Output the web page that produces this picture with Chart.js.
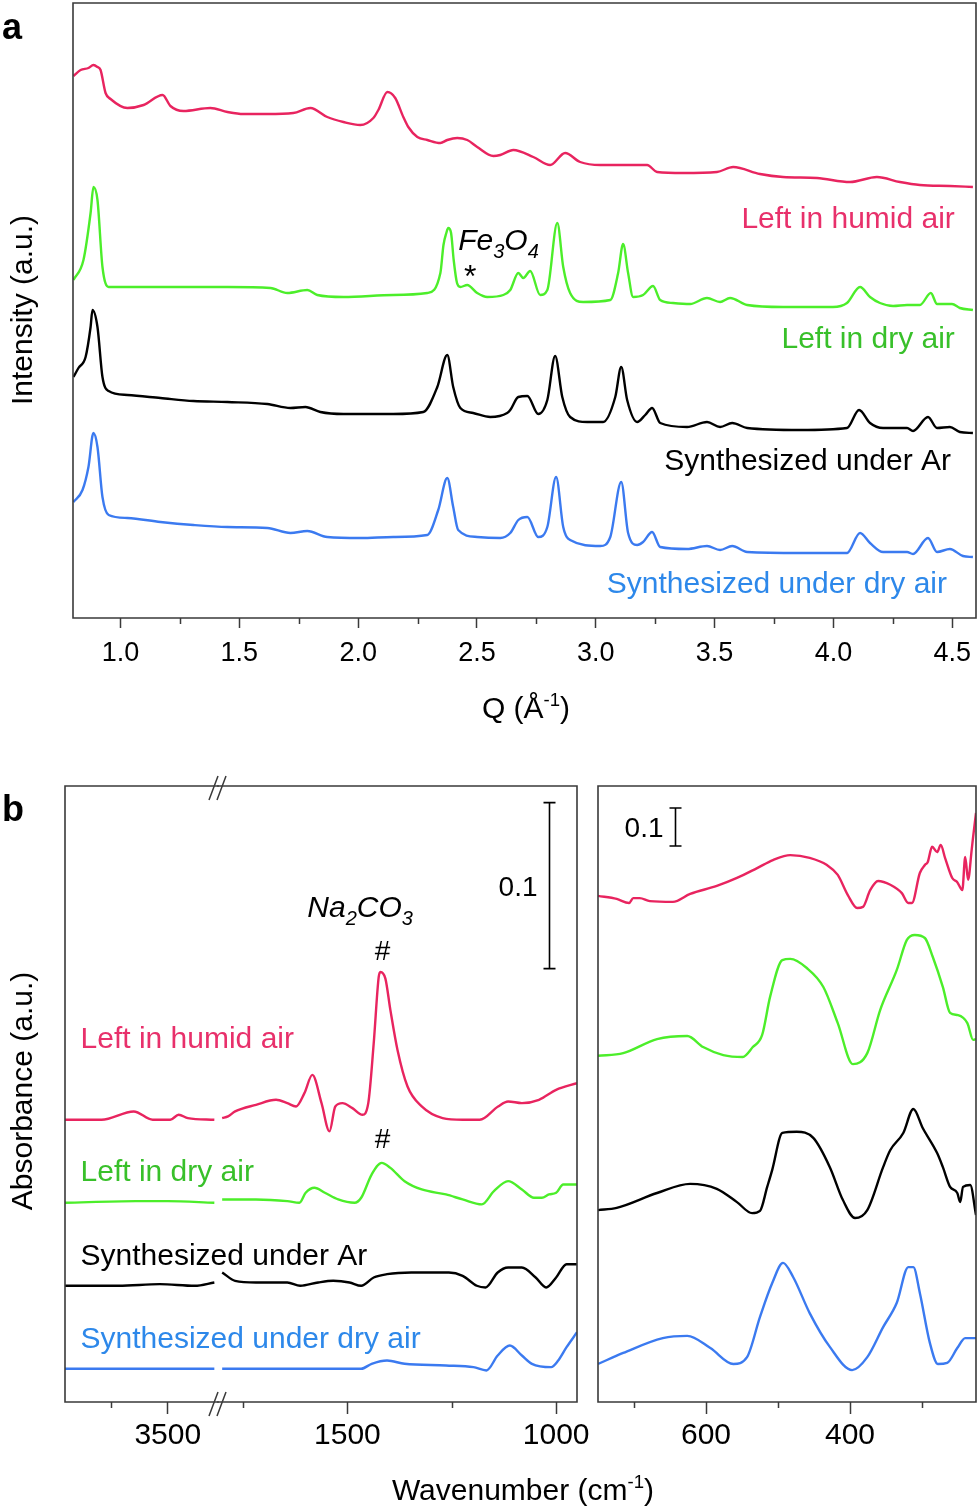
<!DOCTYPE html>
<html>
<head>
<meta charset="utf-8">
<script src="https://cdn.jsdelivr.net/npm/chart.js@4.4.1/dist/chart.umd.min.js"></script>
<style>
	html, body { margin: 0; padding: 0; background: #fff; }
	body { width: 980px; height: 1510px; position: relative; overflow: hidden; font-family: "Liberation Sans", Arial, sans-serif; }
	canvas { position: absolute; left: 0; }
	.t { position: absolute; color: #000; white-space: nowrap; line-height: 1; }
	.t sup { font-size: 62%; position: relative; top: -0.1em; vertical-align: top; }
	.rot { transform: translate(-50%, -50%) rotate(-90deg); }
	.mid { transform: translateX(-50%); }
</style>
</head>
<body>
<canvas id="chart-xrd" style="top:0" width="980" height="740"></canvas>
<canvas id="chart-ir-high" style="top:740px" width="980" height="770"></canvas>
<canvas id="chart-ir-mid" style="top:740px" width="980" height="770"></canvas>
<canvas id="chart-ir-low" style="top:740px" width="980" height="770"></canvas>

<div class="t" style="left:2px;top:9px;font-size:36px;font-weight:bold">a</div>
<div class="t" style="left:2px;top:791px;font-size:36px;font-weight:bold">b</div>
<div class="t rot" style="left:22px;top:310px;font-size:30px">Intensity (a.u.)</div>
<div class="t rot" style="left:22px;top:1091px;font-size:30px">Absorbance (a.u.)</div>
<div class="t mid" style="left:526px;top:693px;font-size:30px">Q (Å<sup>-1</sup>)</div>
<div class="t mid" style="left:523px;top:1475px;font-size:30px">Wavenumber (cm<sup>-1</sup>)</div>

<script>
// ---- panel a : scattering, Q (1/Å) vs intensity (a.u., offsets included)
const qTicks = [1.0, 1.5, 2.0, 2.5, 3.0, 3.5, 4.0, 4.5];
const qMinor = [1.25, 1.75, 2.25, 2.75, 3.25, 3.75, 4.25];

const xrdHumid = [[0.802,542],[0.832,548],[0.865,550],[0.886,553],[0.903,551],[0.916,548],[0.937,525],[0.958,519],[1.029,510],[1.097,513],[1.177,523],[1.210,512],[1.265,507],[1.378,510],[1.450,506],[1.517,504],[1.618,504],[1.727,505],[1.799,510],[1.870,501],[1.938,496],[2.009,493],[2.064,500],[2.085,508],[2.123,526],[2.156,520],[2.190,501],[2.211,491],[2.249,481],[2.291,478],[2.346,475],[2.375,478],[2.417,480],[2.459,478],[2.501,471],[2.569,462],[2.598,463],[2.653,468],[2.737,461],[2.808,453],[2.871,465],[2.934,456],[3.019,453],[3.090,453],[3.157,453],[3.216,453],[3.258,446],[3.368,445],[3.510,446],[3.578,451],[3.691,444],[3.788,441],[3.931,440],[4.070,436],[4.183,441],[4.280,436],[4.364,433],[4.490,432],[4.587,431]];
const xrdDry = [[0.802,338],[0.844,358],[0.874,405],[0.886,431],[0.903,418],[0.924,351],[0.950,331],[1.168,331],[1.450,331],[1.631,330],[1.702,325],[1.786,328],[1.828,323],[1.938,321],[2.148,323],[2.291,325],[2.346,345],[2.359,373],[2.371,385],[2.379,390],[2.391,385],[2.402,358],[2.416,335],[2.430,331],[2.459,333],[2.501,325],[2.543,321],[2.611,323],[2.640,328],[2.674,345],[2.695,340],[2.724,347],[2.766,323],[2.796,328],[2.838,395],[2.863,351],[2.892,325],[2.947,316],[3.061,318],[3.094,345],[3.115,374],[3.136,345],[3.157,321],[3.199,323],[3.241,332],[3.271,318],[3.325,315],[3.397,314],[3.468,320],[3.523,316],[3.565,320],[3.637,313],[3.788,311],[3.998,311],[4.057,315],[4.112,331],[4.154,321],[4.196,315],[4.251,312],[4.310,313],[4.364,313],[4.410,325],[4.436,314],[4.499,314],[4.532,310],[4.587,308]];
const xrdAr = [[0.802,241],[0.823,250],[0.853,261],[0.874,291],[0.882,308],[0.903,291],[0.924,241],[0.950,227],[1.029,223],[1.168,220],[1.307,217],[1.450,216],[1.618,214],[1.715,210],[1.778,211],[1.841,206],[1.938,204],[2.148,204],[2.274,206],[2.333,231],[2.375,263],[2.400,231],[2.430,210],[2.484,205],[2.556,201],[2.627,205],[2.640,208],[2.674,221],[2.712,222],[2.758,204],[2.796,218],[2.829,262],[2.859,221],[2.892,201],[2.964,196],[3.031,196],[3.082,221],[3.107,251],[3.132,218],[3.174,196],[3.208,203],[3.237,210],[3.271,195],[3.384,191],[3.468,196],[3.523,191],[3.574,195],[3.637,190],[3.860,188],[4.057,190],[4.108,208],[4.154,195],[4.209,190],[4.310,190],[4.335,187],[4.398,201],[4.436,190],[4.490,191],[4.532,186],[4.587,185]];
const xrdAir = [[0.802,116],[0.840,128],[0.865,151],[0.886,185],[0.903,171],[0.924,121],[0.950,103],[1.029,100],[1.168,96],[1.307,93],[1.450,91],[1.618,90],[1.715,85],[1.786,87],[1.870,81],[2.009,80],[2.148,81],[2.291,83],[2.337,108],[2.375,140],[2.400,111],[2.421,88],[2.501,81],[2.598,80],[2.640,85],[2.674,98],[2.712,101],[2.758,81],[2.796,91],[2.833,141],[2.863,91],[2.892,78],[3.019,72],[3.061,81],[3.107,136],[3.136,85],[3.174,73],[3.199,76],[3.237,86],[3.271,71],[3.384,69],[3.468,72],[3.523,68],[3.574,72],[3.637,66],[3.860,65],[4.057,65],[4.112,85],[4.154,75],[4.209,66],[4.310,66],[4.335,64],[4.398,80],[4.436,66],[4.490,69],[4.545,62],[4.587,61]];

// ---- panel b : IR, wavenumber (1/cm) vs absorbance (offsets included)
const wnTicksHigh = [3500];
const wnMinorHigh = [3750];
const wnTicksMid = [1500, 1000];
const wnMinorMid = [1750, 1250];
const wnTicksLow = [600, 400];
const wnMinorLow = [700, 500, 300];
const scaleBarSize = 0.1;

const irHumidHigh = [[3950,.170],[3790,.170],[3649,.175],[3566,.170],[3489,.170],[3452,.173],[3412,.171],[3296,.170]];
const irHumidMid = [[1800,.171],[1786,.172],[1769,.175],[1719,.179],[1671,.182],[1644,.180],[1623,.178],[1603,.186],[1584,.197],[1562,.180],[1543,.163],[1529,.178],[1512,.180],[1488,.177],[1464,.173],[1450,.180],[1437,.216],[1425,.256],[1421,.259],[1409,.255],[1397,.236],[1380,.212],[1356,.190],[1322,.178],[1272,.171],[1224,.170],[1183,.170],[1139,.178],[1115,.181],[1082,.180],[1041,.182],[1000,.188],[950,.192]];
const irHumidLow = [[750,1.332],[724,1.324],[707,1.313],[701,1.326],[692,1.326],[678,1.318],[646,1.316],[622,1.337],[585,1.358],[557,1.379],[529,1.405],[507,1.426],[483,1.439],[456,1.432],[432,1.413],[417,1.387],[403,1.334],[390,1.300],[382,1.303],[372,1.347],[361,1.371],[344,1.361],[328,1.339],[319,1.313],[314,1.313],[303,1.392],[296,1.413],[292,1.421],[286,1.461],[279,1.447],[274,1.466],[268,1.432],[258,1.379],[251,1.368],[244,1.347],[240,1.434],[236,1.374],[231,1.453],[229,1.487],[225,1.550]];

const irDryHigh = [[3950,.120],[3640,.121],[3500,.121],[3296,.120]];
const irDryMid = [[1800,.122],[1719,.122],[1644,.121],[1615,.120],[1600,.126],[1579,.129],[1554,.126],[1522,.122],[1483,.120],[1467,.123],[1442,.137],[1418,.144],[1397,.141],[1363,.133],[1322,.128],[1264,.125],[1224,.122],[1178,.119],[1149,.127],[1115,.133],[1082,.128],[1053,.123],[1034,.123],[1017,.125],[1000,.126],[983,.131],[950,.131]];
const irDryLow = [[750,.911],[715,.918],[668,.955],[626,.963],[604,.934],[576,.913],[549,.908],[535,.934],[522,.966],[511,1.066],[494,1.163],[483,1.166],[460,1.142],[437,1.092],[417,.997],[396,.889],[376,.918],[358,1.032],[335,1.137],[321,1.216],[310,1.229],[296,1.221],[285,1.171],[271,1.092],[261,1.024],[250,1.018],[237,.997],[229,.953],[225,.955]];

const irArHigh = [[3950,.070],[3715,.070],[3535,.071],[3382,.070],[3296,.072]];
const irArMid = [[1800,.078],[1769,.073],[1719,.072],[1644,.072],[1613,.070],[1570,.072],[1534,.073],[1495,.072],[1467,.070],[1437,.075],[1405,.077],[1347,.078],[1257,.078],[1224,.076],[1190,.070],[1169,.069],[1140,.078],[1115,.081],[1082,.081],[1049,.075],[1024,.069],[1000,.075],[975,.083],[950,.083]];
const irArLow = [[750,.505],[724,.511],[668,.550],[622,.574],[585,.561],[557,.526],[536,.497],[525,.503],[515,.566],[508,.611],[494,.708],[474,.711],[451,.695],[428,.618],[410,.532],[393,.484],[376,.505],[354,.618],[344,.663],[326,.708],[312,.771],[299,.721],[279,.655],[271,.618],[261,.566],[251,.550],[247,.526],[243,.566],[233,.571],[225,.492]];

const irAirHigh = [[3950,.020],[3640,.020],[3296,.020]];
const irAirMid = [[1800,.020],[1637,.020],[1488,.020],[1467,.020],[1442,.023],[1405,.025],[1363,.023],[1264,.022],[1198,.021],[1167,.019],[1140,.028],[1111,.034],[1082,.028],[1058,.023],[1012,.021],[995,.025],[975,.033],[950,.042]];
const irAirLow = [[750,.100],[715,.129],[660,.168],[626,.174],[594,.142],[562,.100],[543,.118],[525,.224],[508,.313],[493,.366],[479,.329],[456,.234],[428,.145],[397,.084],[376,.118],[354,.197],[335,.261],[319,.355],[312,.355],[303,.287],[289,.155],[278,.100],[265,.103],[251,.142],[240,.168],[225,.168]];

// ---- styles
const FONT = "'Liberation Sans', Arial, Helvetica, sans-serif";
const AXIS = "#3a3a3a";
const RED = "#e8245f", RED_TEXT = "#e8306b";
const GREEN = "#4cee2a", GREEN_TEXT = "#38c02a";
const BLUE = "#3b7af0", BLUE_TEXT = "#2d88ea";
const BLACK = "#000000";

Chart.defaults.font.family = FONT;
Chart.defaults.color = "#000";

const toXY = (pts) => pts.map(([x, y]) => ({ x, y }));
const line = (pts, color) => ({
	data: toXY(pts),
	borderColor: color,
	borderWidth: 2.4,
	pointRadius: 0,
	fill: false,
	cubicInterpolationMode: "monotone",
});

// text with optional sub/superscripts, anchored at a pixel
function drawNote(ctx, n, px, py) {
	const size = n.size || 30;
	const style = n.italic ? "italic " : "";
	const parts = n.parts || [{ t: n.text }];
	const fontFor = (p) => `${style}${p.sub || p.sup ? Math.round(size * 0.66) : size}px ${FONT}`;
	let w = 0;
	parts.forEach((p) => {
		ctx.font = fontFor(p);
		w += ctx.measureText(p.t).width;
	});
	let x = n.align === "right" ? px - w : n.align === "center" ? px - w / 2 : px;
	ctx.fillStyle = n.color || "#000";
	ctx.textAlign = "left";
	ctx.textBaseline = "alphabetic";
	parts.forEach((p) => {
		ctx.font = fontFor(p);
		const dy = p.sub ? size * 0.26 : p.sup ? -size * 0.42 : 0;
		ctx.fillText(p.t, x, py + dy);
		x += ctx.measureText(p.t).width;
	});
}

// frame, minor ticks, axis break, scale bar and in-plot labels
const decor = {
	id: "decor",
	afterDraw(chart, args, o) {
		const { ctx, chartArea: a } = chart;
		const xs = chart.scales.x;
		const ys = chart.scales.y;
		ctx.save();
		ctx.strokeStyle = AXIS;
		ctx.lineWidth = 1.6;
		ctx.lineCap = "square";
		ctx.beginPath();
		if (o.top) { ctx.moveTo(a.left, a.top); ctx.lineTo(a.right, a.top); }
		if (o.bottom) { ctx.moveTo(a.left, a.bottom); ctx.lineTo(a.right, a.bottom); }
		if (o.left) { ctx.moveTo(a.left, a.top); ctx.lineTo(a.left, a.bottom); }
		if (o.right) { ctx.moveTo(a.right, a.top); ctx.lineTo(a.right, a.bottom); }
		ctx.stroke();
		ctx.lineCap = "butt";
		ctx.lineWidth = 1.5;
		ctx.beginPath();
		(o.minor || []).forEach((v) => {
			const px = Math.round(xs.getPixelForValue(v)) + 0.5;
			ctx.moveTo(px, a.bottom);
			ctx.lineTo(px, a.bottom + o.minorLen);
		});
		if (o.breakMarks) {
			[a.top, a.bottom].forEach((y) => {
				[-9, -1].forEach((dx) => {
					ctx.moveTo(a.left + dx, y + 14);
					ctx.lineTo(a.left + dx + 9, y - 10);
				});
			});
		}
		ctx.stroke();
		if (o.bar) {
			const bx = Math.round(xs.getPixelForValue(o.bar.x)) + 0.5;
			const y0 = ys.getPixelForValue(o.bar.from);
			const y1 = ys.getPixelForValue(o.bar.from + scaleBarSize);
			ctx.strokeStyle = "#000";
			ctx.lineWidth = 1.6;
			ctx.beginPath();
			ctx.moveTo(bx, y0); ctx.lineTo(bx, y1);
			ctx.moveTo(bx - 6, y0); ctx.lineTo(bx + 6, y0);
			ctx.moveTo(bx - 6, y1); ctx.lineTo(bx + 6, y1);
			ctx.stroke();
			drawNote(ctx, { text: String(scaleBarSize), size: 28, align: "right" }, bx - 12, (y0 + y1) / 2 + 10);
		}
		(o.notes || []).forEach((n) => drawNote(ctx, n, xs.getPixelForValue(n.x), ys.getPixelForValue(n.y)));
		ctx.restore();
	},
};
Chart.register(decor);

const xAxis = ({ min, max, reverse, ticks, height, tickLength, size, padding, label }) => ({
	type: "linear",
	min,
	max,
	reverse,
	border: { display: false },
	grid: { display: true, drawOnChartArea: false, drawTicks: true, tickLength, tickColor: AXIS, tickWidth: 1.5 },
	ticks: { font: { size }, color: "#000", padding, maxRotation: 0, autoSkip: false, callback: label },
	afterBuildTicks: (s) => { s.ticks = ticks.map((v) => ({ value: v })); },
	afterFit: (s) => { s.height = height; s.paddingLeft = 0; s.paddingRight = 0; },
});

const baseOptions = (padding, x, yMax, decorOpts) => ({
	responsive: false,
	animation: false,
	devicePixelRatio: 1,
	layout: { padding },
	plugins: { legend: { display: false }, tooltip: { enabled: false }, title: { display: false }, decor: decorOpts },
	scales: {
		x,
		y: { display: false, min: 0, max: yMax },
	},
});

// Panel a
new Chart(document.getElementById("chart-xrd"), {
	type: "line",
	data: { datasets: [line(xrdHumid, RED), line(xrdDry, GREEN), line(xrdAr, BLACK), line(xrdAir, BLUE)] },
	options: baseOptions(
		{ left: 73, right: 4, top: 3, bottom: 0 },
		xAxis({ min: 0.8, max: 4.6, reverse: false, ticks: qTicks, height: 122, tickLength: 10, size: 27, padding: 9, label: (v) => Number(v).toFixed(1) }),
		615,
		{
			top: true, bottom: true, left: true, right: true,
			minor: qMinor, minorLen: 6,
			notes: [
				{ text: "Left in humid air", x: 4.511, y: 390, align: "right", color: RED_TEXT },
				{ text: "Left in dry air", x: 4.511, y: 270, align: "right", color: GREEN_TEXT },
				{ text: "Synthesized under Ar", x: 4.495, y: 148, align: "right", color: "#000" },
				{ text: "Synthesized under dry air", x: 4.478, y: 25, align: "right", color: BLUE_TEXT },
				{ parts: [{ t: "Fe" }, { t: "3", sub: true }, { t: "O" }, { t: "4", sub: true }], x: 2.421, y: 368, italic: true, size: 30 },
				{ text: "*", x: 2.472, y: 331, align: "center", size: 32 },
			],
		}
	),
});

// Panel b, left box, high-wavenumber segment
new Chart(document.getElementById("chart-ir-high"), {
	type: "line",
	data: { datasets: [line(irHumidHigh, RED), line(irDryHigh, GREEN), line(irArHigh, BLACK), line(irAirHigh, BLUE)] },
	options: baseOptions(
		{ left: 65, right: 762, top: 46, bottom: 0 },
		xAxis({ min: 3280, max: 3950, reverse: true, ticks: wnTicksHigh, height: 108, tickLength: 12, size: 30, padding: 4, label: (v) => String(v) }),
		0.371,
		{
			top: true, bottom: true, left: true,
			minor: wnMinorHigh, minorLen: 6,
			notes: [
				{ text: "Left in humid air", x: 3882, y: 0.213, color: RED_TEXT },
				{ text: "Left in dry air", x: 3882, y: 0.133, color: GREEN_TEXT },
				{ text: "Synthesized under Ar", x: 3882, y: 0.0825, color: "#000" },
				{ text: "Synthesized under dry air", x: 3882, y: 0.0325, color: BLUE_TEXT },
			],
		}
	),
});

// Panel b, left box, fingerprint segment
new Chart(document.getElementById("chart-ir-mid"), {
	type: "line",
	data: { datasets: [line(irHumidMid, RED), line(irDryMid, GREEN), line(irArMid, BLACK), line(irAirMid, BLUE)] },
	options: baseOptions(
		{ left: 218, right: 403, top: 46, bottom: 0 },
		xAxis({ min: 950, max: 1810, reverse: true, ticks: wnTicksMid, height: 108, tickLength: 12, size: 30, padding: 4, label: (v) => String(v) }),
		0.371,
		{
			top: true, bottom: true, right: true, breakMarks: true,
			minor: wnMinorMid, minorLen: 6,
			bar: { x: 1017, from: 0.261 },
			notes: [
				{ parts: [{ t: "Na" }, { t: "2", sub: true }, { t: "CO" }, { t: "3", sub: true }], x: 1596, y: 0.292, italic: true, size: 30 },
				{ text: "#", x: 1416, y: 0.266, align: "center", size: 28 },
				{ text: "#", x: 1416, y: 0.153, align: "center", size: 28 },
			],
		}
	),
});

// Panel b, right box, low wavenumbers
new Chart(document.getElementById("chart-ir-low"), {
	type: "line",
	data: { datasets: [line(irHumidLow, RED), line(irDryLow, GREEN), line(irArLow, BLACK), line(irAirLow, BLUE)] },
	options: baseOptions(
		{ left: 598, right: 4, top: 46, bottom: 0 },
		xAxis({ min: 225, max: 750, reverse: true, ticks: wnTicksLow, height: 108, tickLength: 12, size: 30, padding: 4, label: (v) => String(v) }),
		1.621,
		{
			top: true, bottom: true, left: true, right: true,
			minor: wnMinorLow, minorLen: 6,
			bar: { x: 643, from: 1.463 },
		}
	),
});
</script>
</body>
</html>
